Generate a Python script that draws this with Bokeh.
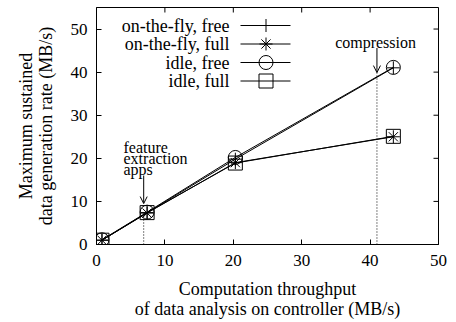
import math
from bokeh.plotting import figure
from bokeh.models import Range1d, Label, Arrow, OpenHead, FixedTicker, ColumnDataSource
from bokeh.embed import file_html
from bokeh.resources import INLINE

# ---- data ----
throughput = [0.8, 7.4, 20.3, 43.4]
otf_free = [1.0, 7.4, 19.8, 41.0]
otf_full = [1.0, 7.3, 19.0, 25.0]
idle_free = [1.1, 7.5, 20.2, 41.1]
idle_full = [1.0, 7.4, 18.9, 25.1]
series_names = ["on-the-fly, free", "on-the-fly, full", "idle, free", "idle, full"]
series_values = [otf_free, otf_full, idle_free, idle_full]
markers = ["cross", "asterisk", "circle", "square"]
x_ticks = [0, 10, 20, 30, 40, 50]
y_ticks = [0, 10, 20, 30, 40, 50]
X_MAX, Y_MAX = 50, 55

FONT = "Liberation Serif"

W, H = 456, 322
B_LEFT, B_RIGHT, B_TOP, B_BOTTOM = 96, 18, 7, 78
FRAME_W, FRAME_H = W - B_LEFT - B_RIGHT, H - B_TOP - B_BOTTOM

p = figure(width=W, height=H, output_backend="svg", toolbar_location=None,
           x_range=Range1d(0, X_MAX), y_range=Range1d(0, Y_MAX),
           min_border_left=B_LEFT, min_border_right=B_RIGHT, min_border_top=B_TOP,
           min_border_bottom=B_BOTTOM)
p.background_fill_color = "white"
p.border_fill_color = "white"
p.outline_line_color = "black"
p.outline_line_width = 1
p.xgrid.visible = False
p.ygrid.visible = False


def style_axis(ax, ticks):
    ax.ticker = FixedTicker(ticks=ticks)
    ax.major_tick_in = 5
    ax.major_tick_out = 0
    ax.minor_tick_line_color = None
    ax.axis_line_color = "black"
    ax.major_tick_line_color = "black"
    ax.major_label_text_font = FONT
    ax.major_label_text_color = "black"
    ax.major_label_text_font_size = "17px"
    ax.axis_label_text_font = FONT
    ax.axis_label_text_font_style = "normal"
    ax.axis_label_text_color = "black"
    ax.axis_label_text_font_size = "18px"
    ax.axis_label_text_line_height = 1.0


xa = p.xaxis[0]
style_axis(xa, x_ticks)
xa.major_label_standoff = 10
xa.axis_label = "Computation throughput\nof data analysis on controller (MB/s)"
xa.axis_label_standoff = 10

ya = p.yaxis[0]
style_axis(ya, y_ticks)
ya.major_label_standoff = 9
ya.axis_label = "Maximum sustained\ndata generation rate (MB/s)"
ya.axis_label_standoff = 12

# mirrored inward ticks on top and right edges
p.ray(x=x_ticks, y=[Y_MAX] * len(x_ticks), length=5, length_units="screen",
      angle=-math.pi / 2, line_color="black", line_width=1)
p.ray(x=[X_MAX] * len(y_ticks), y=y_ticks, length=5, length_units="screen",
      angle=math.pi, line_color="black", line_width=1)

# data series
for name, vals, mk in zip(series_names, series_values, markers):
    src = ColumnDataSource(dict(x=throughput, y=vals))
    p.line("x", "y", source=src, line_color="black", line_width=1)
    sz = 14 if mk in ("circle", "square") else 13
    p.scatter("x", "y", source=src, marker=mk, size=sz, fill_color=None,
              line_color="black", line_width=1)


# ---- legend (text left, sample right, like the reference) ----
def dx(px):
    return px / FRAME_W * X_MAX


def dy(py_top):
    return (FRAME_H - py_top) / FRAME_H * Y_MAX


for i, (name, mk) in enumerate(zip(series_names, markers)):
    row = 18 + i * 18.5
    p.add_layout(Label(x=133, y=FRAME_H - row, x_units="screen", y_units="screen",
                       text=name, text_align="right", text_baseline="middle",
                       text_font=FONT, text_font_size="18px", text_color="black"))
    p.segment(x0=[dx(144)], y0=[dy(row)], x1=[dx(194)], y1=[dy(row)],
              line_color="black", line_width=1)
    sz = 14 if mk in ("circle", "square") else 13
    p.scatter(x=[dx(169.5)], y=[dy(row)], marker=mk, size=sz, fill_color=None,
              line_color="black", line_width=1)

# ---- annotations ----
ann = dict(text_font=FONT, text_font_size="16px", text_color="black")
p.add_layout(Label(x=40.8, y=46.9, text="compression", text_align="center",
                   text_baseline="alphabetic", **ann))
for txt, yy in zip(["feature", "extraction", "apps"], [22.6, 19.9, 17.3]):
    p.add_layout(Label(x=3.95, y=yy, text=txt, text_align="left",
                       text_baseline="alphabetic", **ann))

p.add_layout(Arrow(end=OpenHead(size=7, line_width=1, line_color="black"),
                   x_start=41.0, y_start=45.6, x_end=41.0, y_end=39.9,
                   line_color="black", line_width=1))
p.add_layout(Arrow(end=OpenHead(size=7, line_width=1, line_color="black"),
                   x_start=6.9, y_start=16.0, x_end=6.9, y_end=9.5,
                   line_color="black", line_width=1))
p.segment(x0=[41.0, 6.9], y0=[0, 0], x1=[41.0, 6.9], y1=[39.9, 7.3],
          line_color="black", line_width=1, line_dash="1 2")

open("out.html", "w").write(file_html(p, INLINE))
